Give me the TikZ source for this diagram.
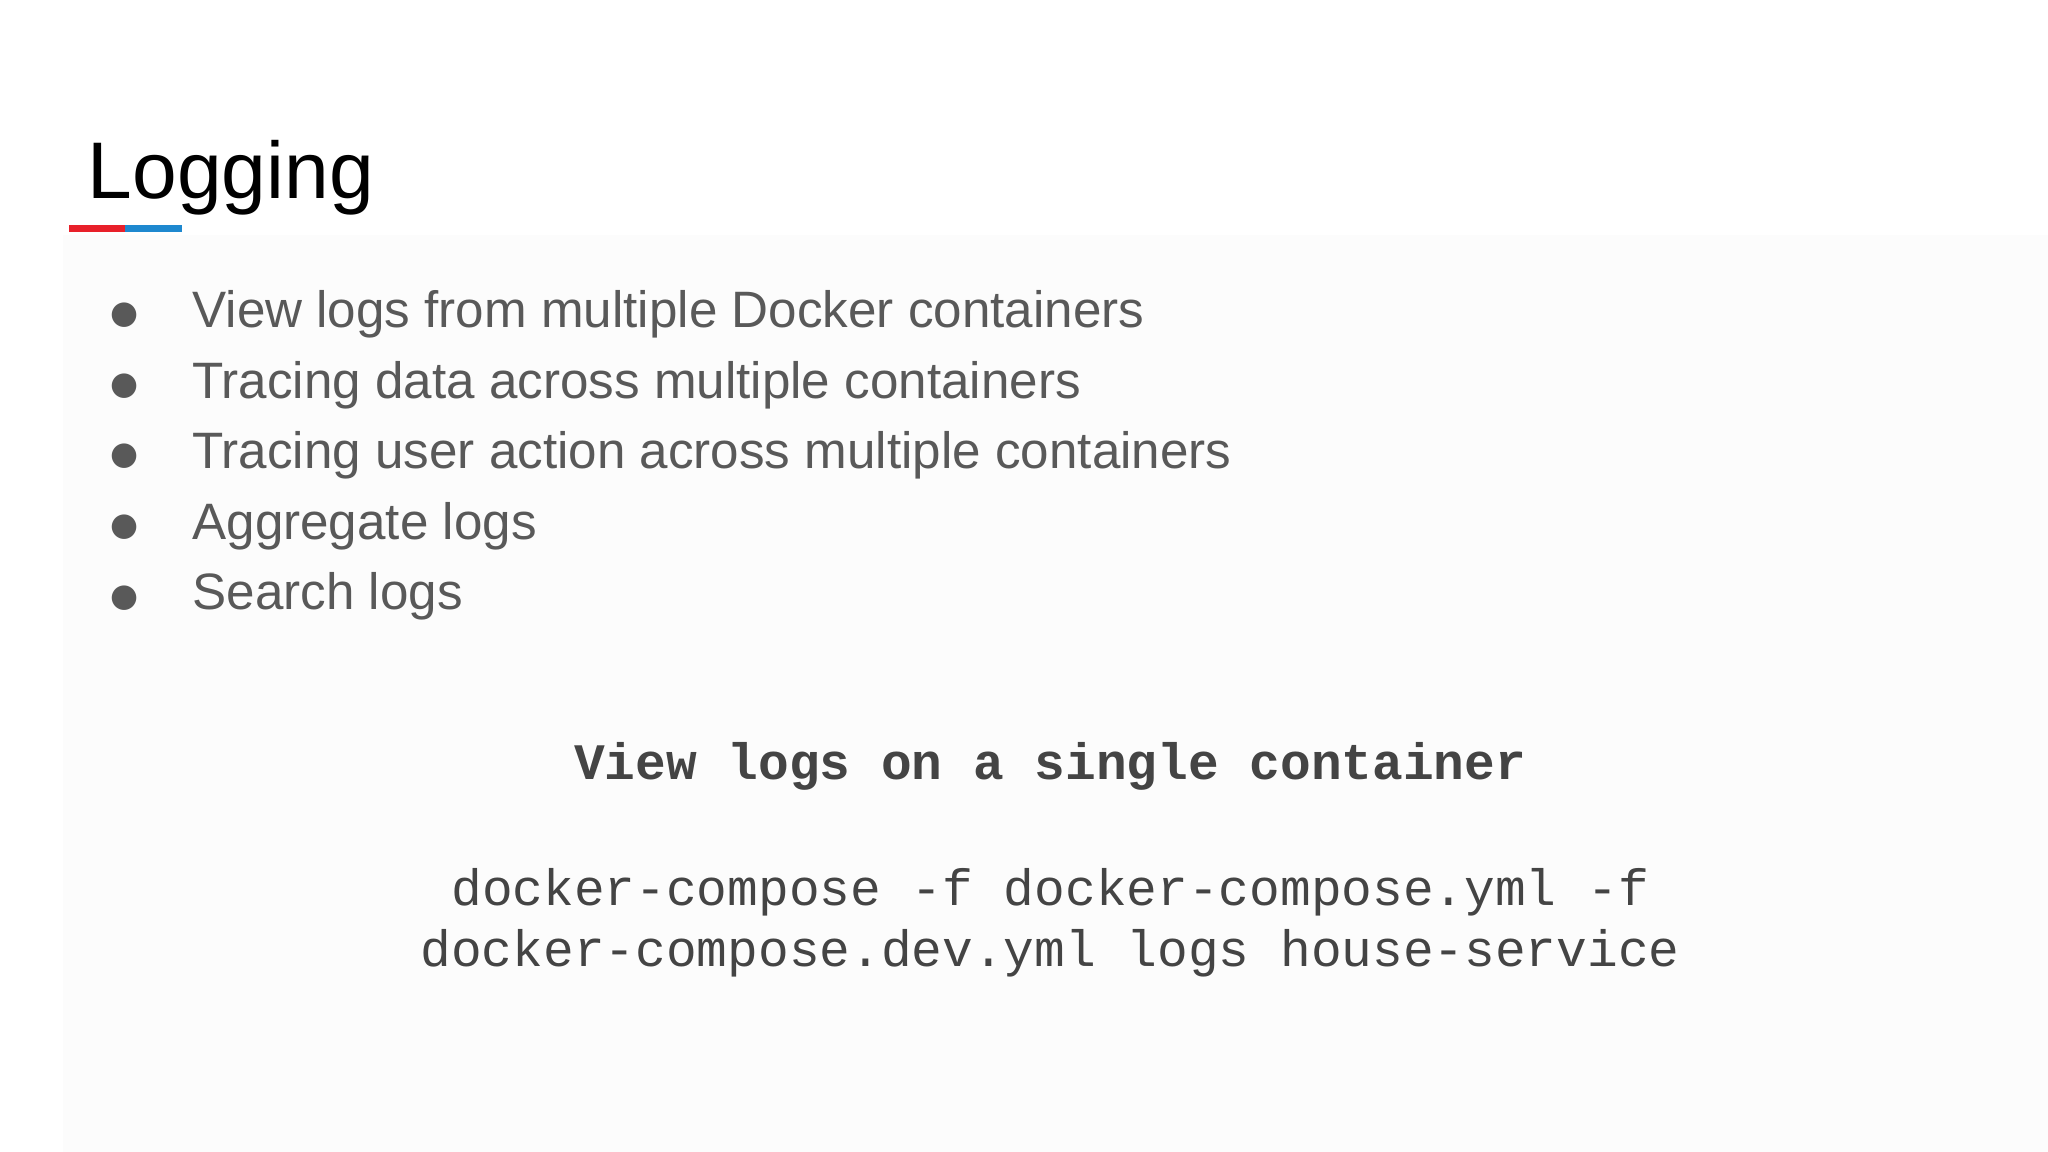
\documentclass[tikz,border=0pt]{standalone}
\usepackage{fontspec}
\setmainfont{Liberation Sans}
\newfontfamily\codefont{Liberation Mono}
\newfontfamily\symfont{DejaVu Sans}
\definecolor{txt}{HTML}{595959}
\definecolor{code}{HTML}{444444}
\definecolor{ured}{HTML}{E8202A}
\definecolor{ublue}{HTML}{1E88CF}
\definecolor{panel}{HTML}{FCFCFC}
\begin{document}
\begin{tikzpicture}[x=0.02cm,y=-0.02cm,
  bullet/.style={anchor=base west,text=txt,font=\fontsize{22.3}{26}\selectfont,inner sep=0},
  dot/.style={anchor=base,text=txt,font=\symfont\fontsize{14}{16}\selectfont,inner sep=0},
  codeline/.style={anchor=base,text=code,font=\codefont\fontsize{22.3}{26}\selectfont,inner sep=0}]
\useasboundingbox[fill=white] (0,0) rectangle (1568,882);
\fill[panel] (48,180) rectangle (1568,882);
\node[anchor=base west,inner sep=0,font=\fontsize{35}{42}\selectfont] (title) at (67,152) {Logging};
\fill[ured] (53,172.5) rectangle (96,177.5);
\fill[ublue] (96,172.5) rectangle (139,177.5);
\foreach \t [count=\i] in {View logs from multiple Docker containers,Tracing data across multiple containers,Tracing user action across multiple containers,Aggregate logs,Search logs}{
  \node[dot] (d\i) at (95,{194+54*\i}) {●};
  \node[bullet] (b\i) at (147,{197+54*\i}) {\t};
}
\node[codeline,font=\codefont\bfseries\fontsize{22.3}{26}\selectfont] (h) at (804,597) {View logs on a single container};
\node[codeline] (c1) at (804,693) {docker-compose -f docker-compose.yml -f};
\node[codeline] (c2) at (804,740) {docker-compose.dev.yml logs house-service};
\end{tikzpicture}
\end{document}
